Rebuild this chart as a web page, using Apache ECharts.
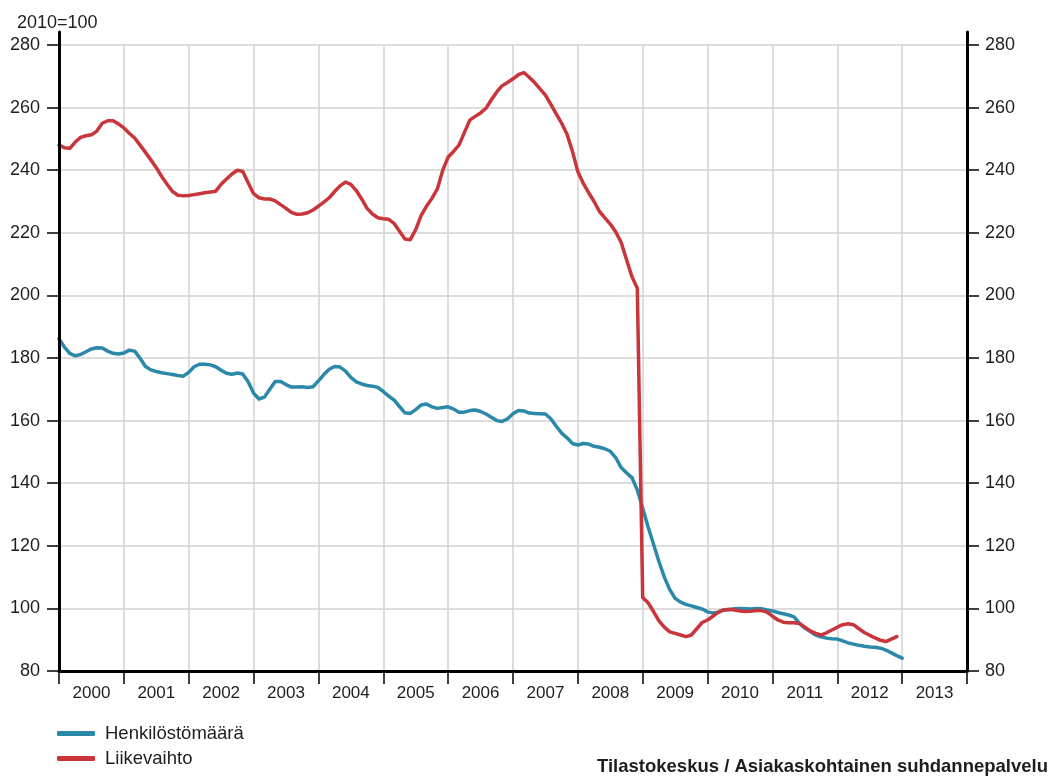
<!DOCTYPE html>
<html>
<head>
<meta charset="utf-8">
<script src="https://cdn.jsdelivr.net/npm/echarts@6/dist/echarts.min.js"></script>
<style>
html,body{margin:0;padding:0;background:#fff;}
#chart{width:1056px;height:776px;}
</style>
</head>
<body>
<div id="chart"></div>
<script>
// ---- data ----
const years = ['2000','2001','2002','2003','2004','2005','2006','2007','2008','2009','2010','2011','2012','2013'];
const unitLabel = '2010=100';
const sourceText = 'Tilastokeskus / Asiakaskohtainen suhdannepalvelu';
const seriesNames = ['Henkilöstömäärä', 'Liikevaihto'];
const yTicks = {min: 80, max: 280, interval: 20};

// monthly values, Jan 2000 onward
const henkilosto = [
186.1,183.5,181.5,180.7,181.1,182.0,182.9,183.3,183.2,182.2,181.5,181.3,
181.6,182.5,182.2,179.9,177.3,176.2,175.7,175.3,175.0,174.7,174.4,174.2,
175.4,177.2,178.0,178.0,177.8,177.2,176.1,175.1,174.8,175.2,174.9,172.4,
168.8,166.9,167.5,170.0,172.5,172.5,171.5,170.7,170.7,170.8,170.6,170.8,
172.7,174.7,176.4,177.3,177.1,175.8,173.8,172.4,171.7,171.2,171.0,170.6,
169.3,167.8,166.6,164.5,162.5,162.3,163.5,165.0,165.3,164.4,163.9,164.2,
164.4,163.7,162.7,162.7,163.2,163.4,162.9,162.1,161.1,160.0,159.7,160.6,
162.2,163.2,163.1,162.4,162.3,162.2,162.1,160.6,158.2,156.0,154.5,152.7,
152.2,152.7,152.5,151.8,151.5,151.0,150.2,148.2,145.0,143.3,141.8,137.8,
132.0,126.0,120.5,115.0,110.0,106.0,103.2,102.0,101.3,100.8,100.3,99.8,
98.9,98.5,98.8,99.5,99.6,99.9,100.0,99.9,99.8,100.0,99.9,99.5,
99.2,98.7,98.3,97.9,97.3,95.2,93.7,92.6,91.5,90.9,90.5,90.3,
90.2,89.6,89.0,88.6,88.2,87.9,87.7,87.6,87.3,86.7,85.8,84.9,
84.1
];
const liikevaihto = [
248.0,247.2,247.0,249.0,250.5,251.0,251.3,252.5,255.0,255.8,255.8,254.8,
253.5,251.8,250.3,248.0,245.7,243.3,240.8,238.0,235.5,233.2,232.0,231.8,
231.9,232.2,232.5,232.8,233.0,233.3,235.5,237.2,238.8,240.0,239.6,236.0,
232.5,231.2,230.8,230.8,230.2,229.0,227.8,226.5,225.9,226.0,226.4,227.3,
228.5,229.8,231.2,233.2,235.0,236.2,235.5,233.5,230.8,227.8,226.0,224.8,
224.5,224.3,223.0,220.5,218.0,217.8,221.0,225.5,228.5,231.0,234.0,240.0,
244.2,246.0,248.0,252.0,256.0,257.2,258.3,259.8,262.5,265.0,267.0,268.0,
269.2,270.5,271.2,269.7,268.0,266.0,264.0,261.0,258.0,255.0,251.5,246.0,
239.5,235.8,232.8,230.0,226.8,224.8,222.8,220.3,217.0,211.5,206.0,202.3,
103.5,101.8,99.0,96.0,94.0,92.5,92.0,91.5,91.0,91.5,93.5,95.5,
96.3,97.5,98.8,99.5,99.7,99.5,99.2,99.0,99.1,99.3,99.3,98.8,
97.5,96.3,95.6,95.4,95.4,95.2,94.0,92.8,92.0,91.5,92.2,93.1,
94.0,94.8,95.1,94.8,93.5,92.3,91.4,90.6,89.8,89.4,90.2,91.0
];

// monthly categories spanning the year axis (boundary to boundary)
const months = [];
years.forEach(y => { for (let m = 1; m <= 12; m++) months.push(y + '-' + String(m).padStart(2, '0')); });
months.push(String(Number(years[years.length - 1]) + 1) + '-01');

// ---- chart ----
const TEAL = '#2a89a8';
const RED = '#c8353b';
const GRID = '#d2d2d2';
const TEXT = '#1e1e1e';
const FONT = '"Liberation Sans", Arial, sans-serif';

const chart = echarts.init(document.getElementById('chart'), null, {renderer: 'canvas'});

const gridBox = {left: 59, right: 89, bottom: 105};

chart.setOption({
  animation: false,
  backgroundColor: '#ffffff',
  textStyle: {fontFamily: FONT, color: TEXT},
  title: [
    {text: unitLabel, left: 12, top: 9, textStyle: {fontFamily: FONT, fontSize: 18, fontWeight: 'normal', color: TEXT}},
    {text: sourceText, right: 3, bottom: -5, textStyle: {fontFamily: FONT, fontSize: 18.5, fontWeight: 'bold', color: TEXT}}
  ],
  legend: {
    orient: 'vertical', left: 57, top: 724, itemGap: 6, padding: 0,
    itemWidth: 38, itemHeight: 5, icon: 'roundRect',
    textStyle: {fontFamily: FONT, fontSize: 18.5, color: TEXT, padding: [0, 0, 0, 5]},
    data: seriesNames
  },
  grid: [
    Object.assign({top: 45}, gridBox),
    Object.assign({top: 32}, gridBox)
  ],
  xAxis: [
    {
      type: 'category', gridIndex: 0, data: years, boundaryGap: true, position: 'bottom',
      axisLine: {show: true, lineStyle: {color: '#000', width: 3}},
      axisTick: {show: true, interval: 0, length: 13, lineStyle: {color: '#000', width: 1.5}},
      axisLabel: {interval: 0, margin: 14, fontFamily: FONT, fontSize: 17, color: TEXT},
      splitLine: {show: true, interval: 0, lineStyle: {color: GRID, width: 1.5}},
      z: 3
    },
    {
      type: 'category', gridIndex: 0, data: months, boundaryGap: false, show: false
    },
    {
      type: 'category', gridIndex: 1, data: years, show: false
    }
  ],
  yAxis: [
    {
      type: 'value', gridIndex: 0, position: 'left', z: 1,
      min: yTicks.min, max: yTicks.max, interval: yTicks.interval,
      axisLine: {show: false},
      axisTick: {show: true, length: 12, lineStyle: {color: '#000', width: 1.5}},
      axisLabel: {margin: 19, fontFamily: FONT, fontSize: 18, color: TEXT},
      splitLine: {show: true, lineStyle: {color: GRID, width: 1.5}}
    },
    {
      type: 'value', gridIndex: 0, position: 'right', z: 1,
      min: yTicks.min, max: yTicks.max, interval: yTicks.interval,
      axisLine: {show: false},
      axisTick: {show: true, length: 12, lineStyle: {color: '#000', width: 1.5}},
      axisLabel: {margin: 18, fontFamily: FONT, fontSize: 18, color: TEXT},
      splitLine: {show: false}
    },
    {
      type: 'value', gridIndex: 1, position: 'left', min: 0, max: 1, z: 5,
      axisLine: {show: true, lineStyle: {color: '#000', width: 3}},
      axisTick: {show: false}, axisLabel: {show: false}, splitLine: {show: false}
    },
    {
      type: 'value', gridIndex: 1, position: 'right', min: 0, max: 1, z: 5,
      axisLine: {show: true, lineStyle: {color: '#000', width: 3}},
      axisTick: {show: false}, axisLabel: {show: false}, splitLine: {show: false}
    }
  ],
  series: [
    {
      name: seriesNames[0], type: 'line', xAxisIndex: 1, yAxisIndex: 0,
      data: henkilosto, showSymbol: false, smooth: false,
      lineStyle: {color: TEAL, width: 3.5, join: 'round', cap: 'round'},
      itemStyle: {color: TEAL}, z: 4
    },
    {
      name: seriesNames[1], type: 'line', xAxisIndex: 1, yAxisIndex: 0,
      data: liikevaihto, showSymbol: false, smooth: false,
      lineStyle: {color: RED, width: 3.5, join: 'round', cap: 'round'},
      itemStyle: {color: RED}, z: 4
    }
  ]
});
</script>
</body>
</html>
